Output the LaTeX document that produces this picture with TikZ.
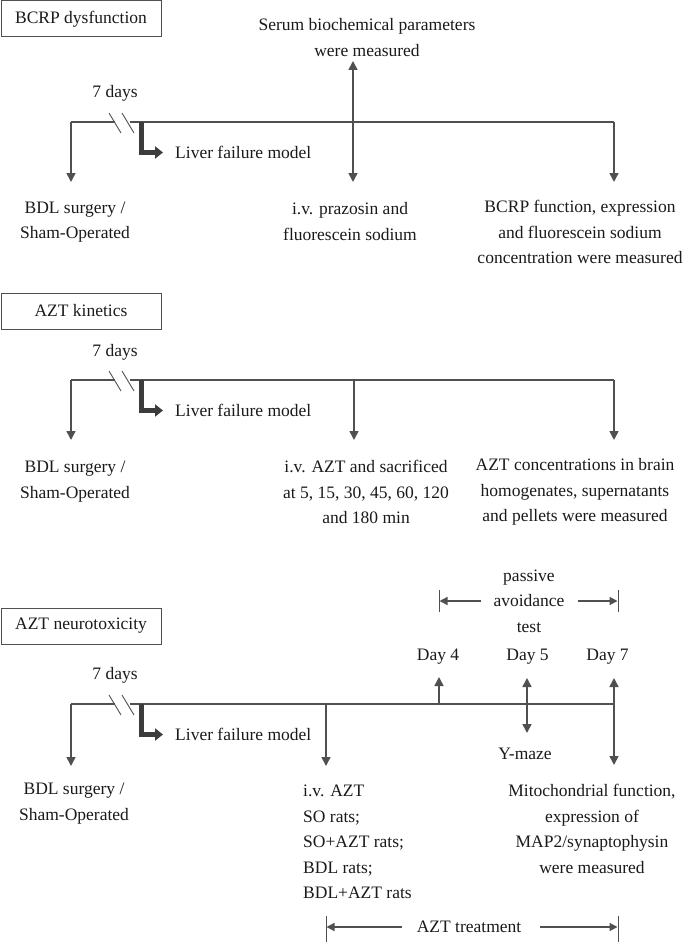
\documentclass[tikz,border=0pt]{standalone}
\usepackage{fontspec}
\setmainfont{Liberation Serif}
\usetikzlibrary{arrows.meta}
\definecolor{lc}{HTML}{505050}
\definecolor{dc}{HTML}{3C3C3C}
\definecolor{tc}{HTML}{1A1A1A}
\begin{document}
\begin{tikzpicture}[x=1pt,y=-1pt,
  tline/.style={draw=lc, line width=1.3pt},
  arr/.style={draw=lc, line width=1.6pt, -{Triangle[length=9pt,width=9pt]}},
  darr/.style={draw=lc, line width=1.6pt, {Triangle[length=9pt,width=9pt]}-{Triangle[length=9pt,width=9pt]}},
  barr/.style={draw=lc, line width=1.4pt, -{Triangle[length=8pt,width=8pt]}},
  bar/.style={draw=lc, line width=1pt},
  lfm/.style={draw=dc, line width=5pt, -{Triangle[length=8pt,width=12pt]}},
  brk/.style={draw=lc, line width=0.9pt},
  lbl/.style={text=tc, inner sep=0pt, align=center, font=\fontsize{17.5}{25.5}\selectfont},
  title/.style={draw=lc, line width=1pt, text=tc, minimum width=160pt, minimum height=36pt, inner sep=0pt, font=\fontsize{17.5}{25.5}\selectfont}
]
\useasboundingbox (0,0) rectangle (685,942);

% ---------- Section 1 ----------
\node[title] (t1) at (81,19) {BCRP dysfunction};
\node[lbl] (serum) at (367,37.5) {Serum biochemical parameters\\were measured};
\node[lbl] (d1) at (115,93) {7 days};
\coordinate (a1s) at (71,122);
\coordinate (a1e) at (71,182);
\coordinate (b1a) at (115,122);
\coordinate (b1b) at (130,122);
\coordinate (m1s) at (353,61);
\coordinate (m1e) at (353,182);
\coordinate (r1s) at (614,122);
\coordinate (r1e) at (614,182);
\coordinate (L1a) at (141,122);
\coordinate (L1b) at (141,152.5);
\coordinate (L1c) at (163,152.5);
\draw[tline] (a1s) -- (b1a);
\draw[tline] (b1b) -- (r1s);
\draw[brk] (109,113) -- (121,133);
\draw[brk] (122,113) -- (134,133);
\draw[arr] (a1s) -- (a1e);
\draw[darr] (m1s) -- (m1e);
\draw[arr] (r1s) -- (r1e);
\draw[lfm] (L1a) -- (L1b) -- (L1c);
\node[lbl, anchor=west] (lf1) at (175,152) {Liver failure model};
\node[lbl] (bdl1) at (75,222) {BDL surgery /\\Sham-Operated};
\node[lbl] (iv1) at (350,221.5) {i.v. prazosin and\\fluorescein sodium};
\node[lbl] (bc1) at (580,232) {BCRP function, expression\\and fluorescein sodium\\concentration were measured};

% ---------- Section 2 ----------
\node[title] (t2) at (81,311) {AZT kinetics};
\node[lbl] (d2) at (115,352) {7 days};
\coordinate (a2s) at (71,380);
\coordinate (a2e) at (71,440);
\coordinate (b2a) at (115,380);
\coordinate (b2b) at (130,380);
\coordinate (m2s) at (354,380);
\coordinate (m2e) at (354,440);
\coordinate (r2s) at (614,380);
\coordinate (r2e) at (614,440);
\coordinate (L2a) at (141,380);
\coordinate (L2b) at (141,410.5);
\coordinate (L2c) at (163,410.5);
\draw[tline] (a2s) -- (b2a);
\draw[tline] (b2b) -- (r2s);
\draw[brk] (109,371) -- (121,391);
\draw[brk] (122,371) -- (134,391);
\draw[arr] (a2s) -- (a2e);
\draw[arr] (m2s) -- (m2e);
\draw[arr] (r2s) -- (r2e);
\draw[lfm] (L2a) -- (L2b) -- (L2c);
\node[lbl, anchor=west] (lf2) at (175,410) {Liver failure model};
\node[lbl] (bdl2) at (75,481.5) {BDL surgery /\\Sham-Operated};
\node[lbl] (iv2) at (366,492) {i.v. AZT and sacrificed\\at 5, 15, 30, 45, 60, 120\\and 180 min};
\node[lbl] (az2) at (575,492) {AZT concentrations in brain\\homogenates, supernatants\\and pellets were measured};

% ---------- Section 3 ----------
\node[title] (t3) at (81,626) {AZT neurotoxicity};
\node[lbl] (d3) at (115,675) {7 days};
\node[lbl] (pa) at (529,601) {passive\\avoidance\\test};
\coordinate (pl) at (439.5,601);
\coordinate (pr) at (617.5,601);
\draw[bar] (439,590) -- (439,612);
\draw[bar] (618,590) -- (618,612);
\draw[barr] (481,601) -- (pl);
\draw[barr] (578,601) -- (pr);
\coordinate (a3s) at (71,704);
\coordinate (a3e) at (71,766);
\coordinate (b3a) at (115,704);
\coordinate (b3b) at (130,704);
\coordinate (c3s) at (326,704);
\coordinate (c3e) at (326,766);
\coordinate (d4s) at (439,704);
\coordinate (d4e) at (439,677);
\coordinate (d5s) at (527,678);
\coordinate (d5e) at (527,733);
\coordinate (d7s) at (614,678);
\coordinate (d7e) at (614,765);
\coordinate (r3) at (614,704);
\coordinate (L3a) at (141,704);
\coordinate (L3b) at (141,734.5);
\coordinate (L3c) at (163,734.5);
\draw[tline] (a3s) -- (b3a);
\draw[tline] (b3b) -- (r3);
\draw[brk] (109,695) -- (121,715);
\draw[brk] (122,695) -- (134,715);
\draw[arr] (a3s) -- (a3e);
\draw[arr] (c3s) -- (c3e);
\draw[arr] (d4s) -- (d4e);
\draw[darr] (d5s) -- (d5e);
\draw[darr] (d7s) -- (d7e);
\draw[lfm] (L3a) -- (L3b) -- (L3c);
\node[lbl, anchor=west] (lf3) at (175,734) {Liver failure model};
\node[lbl] (day4) at (438,657) {Day 4};
\node[lbl] (day5) at (527.5,657) {Day 5};
\node[lbl] (day7) at (607.5,657) {Day 7};
\node[lbl] (ym) at (525,754) {Y-maze};
\node[lbl] (bdl3) at (74,803.5) {BDL surgery /\\Sham-Operated};
\node[lbl, align=left, anchor=west] (iv3) at (303,842) {i.v. AZT\\SO rats;\\SO+AZT rats;\\BDL rats;\\BDL+AZT rats};
\node[lbl] (mito) at (592,829) {Mitochondrial function,\\expression of\\MAP2/synaptophysin\\were measured};
\node[lbl] (trt) at (469,927) {AZT treatment};
\coordinate (tl) at (326.5,927);
\coordinate (tr) at (617.5,927);
\draw[bar] (326,916) -- (326,942);
\draw[bar] (618,916) -- (618,942);
\draw[barr] (402,927) -- (tl);
\draw[barr] (540,927) -- (tr);
\end{tikzpicture}
\end{document}
